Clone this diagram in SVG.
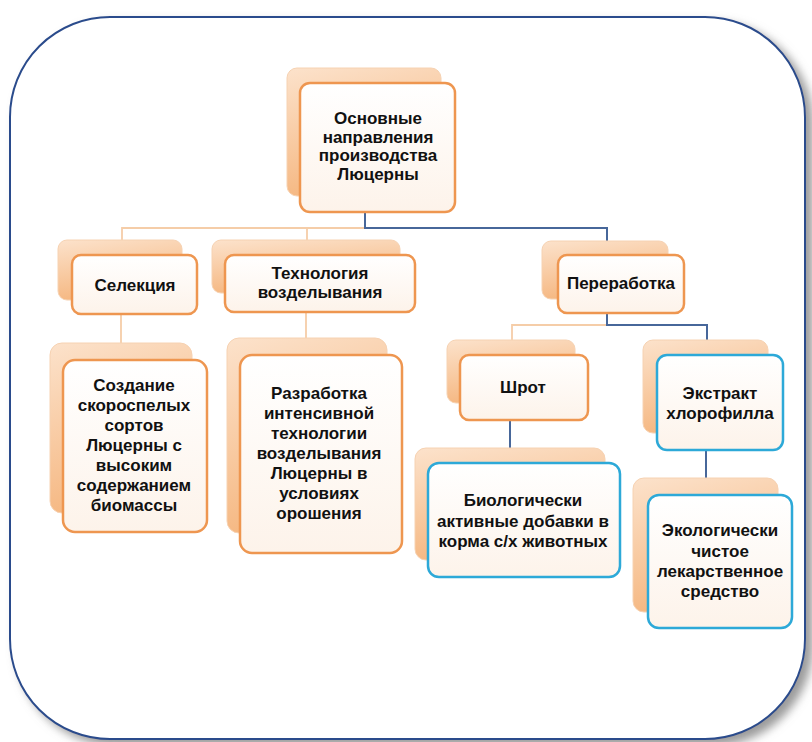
<svg xmlns="http://www.w3.org/2000/svg" width="812" height="742" viewBox="0 0 812 742">
<defs>
<filter id="sh" x="-5%" y="-5%" width="115%" height="115%">
<feDropShadow dx="7" dy="6" stdDeviation="5" flood-color="#7a7a7a" flood-opacity="0.75"/>
</filter>
<linearGradient id="back" x1="0" y1="0" x2="0.3" y2="1">
<stop offset="0" stop-color="#FCE2CB"/>
<stop offset="1" stop-color="#F5B67F"/>
</linearGradient>
<linearGradient id="front" x1="0" y1="0" x2="0" y2="1">
<stop offset="0" stop-color="#FFFFFF"/>
<stop offset="1" stop-color="#FDF3EA"/>
</linearGradient>
<style>
.back{fill:url(#back);stroke:#F6D2B2;stroke-width:1}
.fo{fill:url(#front);stroke:#EE9650;stroke-width:2.5}
.fb{fill:url(#front);stroke:#2DA9D8;stroke-width:2.5}
.lo{stroke:#F5CDA8;stroke-width:1.8;fill:none}
.lb{stroke:#47679A;stroke-width:2;fill:none}
text{font-family:"Liberation Sans",Arial,sans-serif;font-weight:bold;font-size:17px;fill:#111;text-anchor:middle}
</style>
</defs>
<rect x="0" y="0" width="812" height="742" fill="#ffffff"/>
<rect id="frame" x="10" y="17" width="795" height="722" rx="100" ry="100" fill="#ffffff" stroke="#2B4C8C" stroke-width="2" filter="url(#sh)"/>

<g id="connectors">
<path class="lo" d="M122 240 V228 H365"/>
<path class="lo" d="M307 228 V240"/>
<path class="lb" d="M365 212 V228 H607 V242"/>
<path class="lo" d="M121 314 V344"/>
<path class="lo" d="M306 312 V338"/>
<path class="lo" d="M512 340 V325 H607"/>
<path class="lb" d="M607 313 V325 H707 V340"/>
<path class="lb" d="M510 420 V448"/>
<path class="lb" d="M706 450 V478"/>
</g>

<g id="root">
<rect class="back" x="287" y="68" width="154" height="128" rx="10"/>
<rect class="fo" x="300" y="83" width="155" height="129" rx="10"/>
<text x="378" y="124">Основные</text>
<text x="378" y="143">направления</text>
<text x="378" y="161">производства</text>
<text x="378" y="180">Люцерны</text>
</g>

<g id="selekciya">
<rect class="back" x="58" y="240" width="124" height="60" rx="9"/>
<rect class="fo" x="72" y="255" width="125" height="59" rx="9"/>
<text x="135" y="291">Селекция</text>
</g>

<g id="tehnologiya">
<rect class="back" x="212" y="240" width="188" height="53" rx="9"/>
<rect class="fo" x="225" y="255" width="190" height="57" rx="9"/>
<text x="320" y="279">Технология</text>
<text x="320" y="298">возделывания</text>
</g>

<g id="pererabotka">
<rect class="back" x="542" y="241" width="126" height="58" rx="9"/>
<rect class="fo" x="558" y="255" width="126" height="58" rx="9"/>
<text x="621" y="289">Переработка</text>
</g>

<g id="sozdanie">
<rect class="back" x="50" y="343" width="142" height="170" rx="12"/>
<rect class="fo" x="63" y="360" width="144" height="172" rx="12"/>
<text x="134" y="391">Создание</text>
<text x="134" y="411">скороспелых</text>
<text x="134" y="431">сортов</text>
<text x="134" y="451">Люцерны с</text>
<text x="134" y="471">высоким</text>
<text x="134" y="491">содержанием</text>
<text x="134" y="511">биомассы</text>
</g>

<g id="razrabotka">
<rect class="back" x="227" y="338" width="160" height="195" rx="12"/>
<rect class="fo" x="240" y="355" width="162" height="198" rx="12"/>
<text x="319" y="399">Разработка</text>
<text x="319" y="419">интенсивной</text>
<text x="319" y="439">технологии</text>
<text x="319" y="459">возделывания</text>
<text x="319" y="479">Люцерны в</text>
<text x="319" y="499">условиях</text>
<text x="319" y="519">орошения</text>
</g>

<g id="shrot">
<rect class="back" x="447" y="340" width="128" height="63" rx="9"/>
<rect class="fo" x="460" y="355" width="128" height="65" rx="9"/>
<text x="523" y="393">Шрот</text>
</g>

<g id="ekstrakt">
<rect class="back" x="643" y="340" width="125" height="93" rx="10"/>
<rect class="fb" x="657" y="355" width="126" height="95" rx="10"/>
<text x="720" y="399">Экстракт</text>
<text x="720" y="419">хлорофилла</text>
</g>

<g id="biologicheski">
<rect class="back" x="415" y="448" width="190" height="112" rx="11"/>
<rect class="fb" x="428" y="463" width="192" height="114" rx="11"/>
<text x="523" y="506">Биологически</text>
<text x="523" y="527">активные добавки в</text>
<text x="523" y="547">корма с/х животных</text>
</g>

<g id="ekologicheski">
<rect class="back" x="633" y="478" width="145" height="134" rx="11"/>
<rect class="fb" x="648" y="495" width="144" height="133" rx="11"/>
<text x="720" y="536">Экологически</text>
<text x="720" y="557">чистое</text>
<text x="720" y="577">лекарственное</text>
<text x="720" y="597">средство</text>
</g>
</svg>
